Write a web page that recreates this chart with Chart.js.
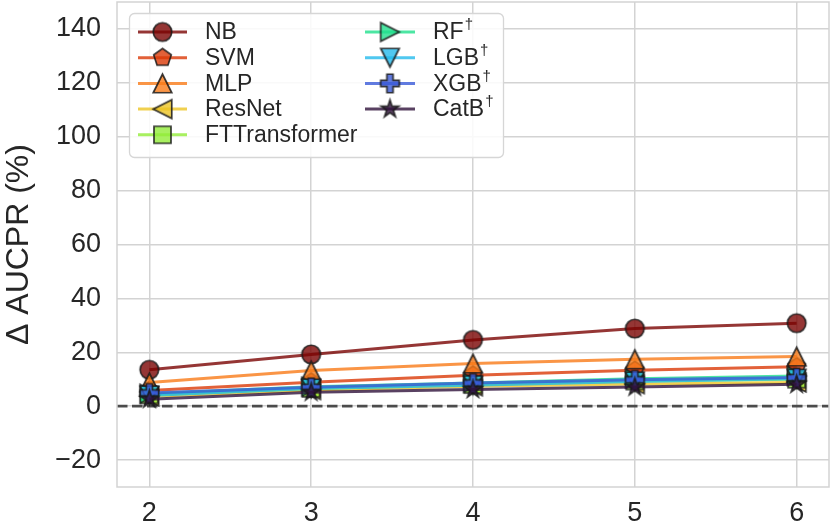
<!DOCTYPE html>
<html><head><meta charset="utf-8">
<script src="https://cdn.jsdelivr.net/npm/chart.js@4.4.1/dist/chart.umd.min.js"></script>
<style>html,body{margin:0;padding:0;background:#fff;overflow:hidden}#wrap{width:831px;height:530px}</style>
</head><body><div id="wrap"><canvas id="c" width="831" height="530"></canvas></div>
<script>
// ---------- data ----------
const xValues = [2, 3, 4, 5, 6];
const xTicks = [2, 3, 4, 5, 6];
const yTicks = [-20, 0, 20, 40, 60, 80, 100, 120, 140];
const seriesNames = ['NB', 'SVM', 'MLP', 'ResNet', 'FTTransformer', 'RF', 'LGB', 'XGB', 'CatB'];
const seriesDagger = [false, false, false, false, false, true, true, true, true];
const NB = [13.5, 19.2, 24.6, 28.8, 30.8];
const SVM = [5.8, 8.9, 11.5, 13.3, 14.6];
const MLP = [8.8, 13.2, 15.8, 17.4, 18.4];
const ResNet = [3.6, 6.0, 7.4, 8.2, 8.8];
const FTTransformer = [4.2, 6.6, 8.0, 9.3, 10.0];
const RF = [4.6, 7.2, 8.6, 10.2, 11.2];
const LGB = [4.0, 6.6, 7.8, 9.2, 10.2];
const XGB = [4.9, 7.0, 8.6, 9.8, 10.6];
const CatB = [2.6, 5.2, 6.2, 7.1, 8.1];
const seriesValues = [NB, SVM, MLP, ResNet, FTTransformer, RF, LGB, XGB, CatB];

// ---------- styles ----------
const baseColors = ['#7a0403', '#db3a07', '#f97a18', '#ecc424', '#92ec38', '#1fe08c', '#24baec', '#3a5ad8', '#30123b'];
const shapes = ['circle', 'pentagon', 'triUp', 'triLeft', 'square', 'triRight', 'triDown', 'plus', 'star'];
const ALPHA = 0.8;
const FONT = "'Liberation Sans', Arial, Helvetica, sans-serif";
const TEXT = '#262626';
const GRID = '#d3d3d3';

function rgba(hex, a) {
  const n = parseInt(hex.slice(1), 16);
  return `rgba(${(n >> 16) & 255},${(n >> 8) & 255},${n & 255},${a})`;
}

function makeMarker(shape, color, s) {
  const pad = 3;
  const dim = Math.ceil(s + pad * 2);
  const cv = document.createElement('canvas');
  cv.width = dim; cv.height = dim;
  const g = cv.getContext('2d');
  const c = dim / 2, r = s / 2;
  g.beginPath();
  const poly = pts => { pts.forEach((p, i) => i ? g.lineTo(c + p[0], c + p[1]) : g.moveTo(c + p[0], c + p[1])); g.closePath(); };
  switch (shape) {
    case 'circle': g.arc(c, c, r, 0, Math.PI * 2); break;
    case 'pentagon': {
      const pts = [];
      for (let k = 0; k < 5; k++) { const a = -Math.PI / 2 + k * 2 * Math.PI / 5; pts.push([r * Math.cos(a), r * Math.sin(a)]); }
      poly(pts); break;
    }
    case 'triUp': poly([[0, -r], [-r, r], [r, r]]); break;
    case 'triDown': poly([[0, r], [-r, -r], [r, -r]]); break;
    case 'triLeft': poly([[-r, 0], [r, -r], [r, r]]); break;
    case 'triRight': poly([[r, 0], [-r, -r], [-r, r]]); break;
    case 'square': { const h = r * 0.92; poly([[-h, -h], [h, -h], [h, h], [-h, h]]); break; }
    case 'plus': {
      const a = r, b = r / 3;
      poly([[-b, -a], [b, -a], [b, -b], [a, -b], [a, b], [b, b], [b, a], [-b, a], [-b, b], [-a, b], [-a, -b], [-b, -b]]);
      break;
    }
    case 'star': {
      const pts = [], ri = r * 0.381966;
      for (let k = 0; k < 10; k++) { const a = -Math.PI / 2 + k * Math.PI / 5; const rr = k % 2 ? ri : r; pts.push([rr * Math.cos(a), rr * Math.sin(a)]); }
      poly(pts); break;
    }
  }
  g.fillStyle = rgba(color, ALPHA);
  g.fill();
  g.lineJoin = 'miter';
  g.lineWidth = 1.7;
  g.strokeStyle = 'rgba(25,25,25,0.85)';
  g.stroke();
  return cv;
}

const markerImgs = shapes.map((sh, i) => makeMarker(sh, baseColors[i], 18.5));

const datasets = seriesNames.map((name, i) => ({
  label: name + (seriesDagger[i] ? '†' : ''),
  data: xValues.map((x, j) => ({ x: x, y: seriesValues[i][j] })),
  borderColor: rgba(baseColors[i], ALPHA),
  backgroundColor: rgba(baseColors[i], ALPHA),
  borderWidth: 3,
  pointStyle: markerImgs[i],
  pointRadius: 9,
  pointHoverRadius: 9,
  tension: 0,
  fill: false,
  clip: false,
  order: seriesNames.length - i
}));

const framePlugin = {
  id: 'frameZero',
  beforeDatasetsDraw(chart) {
    const { ctx, chartArea: a, scales: { y } } = chart;
    const yy = y.getPixelForValue(0);
    ctx.save();
    ctx.strokeStyle = 'rgba(60,60,60,0.9)';
    ctx.lineWidth = 2.8;
    ctx.setLineDash([10.5, 4.5]);
    ctx.beginPath();
    ctx.moveTo(a.left, yy); ctx.lineTo(a.right, yy);
    ctx.stroke();
    ctx.restore();
  },
  afterDatasetsDraw(chart) {
    const { ctx, chartArea: a } = chart;
    ctx.save();
    ctx.strokeStyle = GRID;
    ctx.lineWidth = 1.5;
    ctx.strokeRect(a.left, a.top, a.right - a.left, a.bottom - a.top);
    ctx.restore();
  }
};

const legendPlugin = {
  id: 'customLegend',
  afterDraw(chart) {
    const ctx = chart.ctx;
    const box = { x: 129, y: 13, w: 374, h: 144, r: 5 };
    ctx.save();
    ctx.beginPath();
    ctx.roundRect(box.x + 0.5, box.y + 0.5, box.w, box.h, box.r);
    ctx.fillStyle = 'rgba(255,255,255,0.85)';
    ctx.fill();
    ctx.strokeStyle = '#d6d6d6';
    ctx.lineWidth = 1.3;
    ctx.stroke();
    const rowH = 25.7, row0 = 32;
    const cols = [{ l0: 138, l1: 187, tx: 205 }, { l0: 365, l1: 415, tx: 433 }];
    chart.data.datasets.forEach((ds, i) => {
      const col = i < 5 ? cols[0] : cols[1];
      const row = i < 5 ? i : i - 5;
      const cy = row0 + row * rowH;
      ctx.beginPath();
      ctx.strokeStyle = ds.borderColor;
      ctx.lineWidth = 3;
      ctx.moveTo(col.l0, cy); ctx.lineTo(col.l1, cy);
      ctx.stroke();
      const img = ds.pointStyle;
      const cx = (col.l0 + col.l1) / 2;
      ctx.drawImage(img, cx - img.width / 2, cy - img.height / 2);
      ctx.fillStyle = TEXT;
      ctx.textBaseline = 'middle';
      ctx.textAlign = 'left';
      ctx.font = `23px ${FONT}`;
      const name = seriesNames[i];
      ctx.fillText(name, col.tx, cy + 1);
      if (seriesDagger[i]) {
        const w = ctx.measureText(name).width;
        ctx.font = `15px ${FONT}`;
        ctx.fillText('†', col.tx + w + 1, cy - 7);
      }
    });
    ctx.restore();
  }
};

Chart.defaults.font.family = FONT;
Chart.defaults.color = TEXT;

new Chart(document.getElementById('c'), {
  type: 'line',
  data: { datasets },
  options: {
    responsive: false,
    animation: false,
    devicePixelRatio: 1,
    layout: { autoPadding: false, padding: { top: 2, right: 2, left: 0, bottom: 0 } },
    plugins: { legend: { display: false }, tooltip: { enabled: false } },
    scales: {
      x: {
        type: 'linear', min: 1.8, max: 6.2,
        afterBuildTicks: s => { s.ticks = xTicks.map(v => ({ value: v })); },
        afterFit: s => { s.height = 43; s.paddingLeft = 0; s.paddingRight = 0; },
        grid: { color: GRID, lineWidth: 1.5, drawTicks: false },
        border: { display: false },
        ticks: { font: { size: 27 }, color: TEXT, padding: 10, callback: v => String(v), maxRotation: 0 }
      },
      y: {
        type: 'linear', min: -30, max: 150,
        afterBuildTicks: s => { s.ticks = yTicks.map(v => ({ value: v })); },
        afterFit: s => { s.width = 117; s.paddingTop = 0; s.paddingBottom = 0; },
        grid: { color: GRID, lineWidth: 1.5, drawTicks: false },
        border: { display: false },
        ticks: { font: { size: 27 }, color: TEXT, padding: 16, callback: v => (v < 0 ? '\u2212' + Math.abs(v) : String(v)) },
        title: { display: true, text: 'Δ AUCPR (%)', font: { size: 32 }, color: TEXT, padding: 0 }
      }
    }
  },
  plugins: [framePlugin, legendPlugin]
});
</script>
</body></html>
